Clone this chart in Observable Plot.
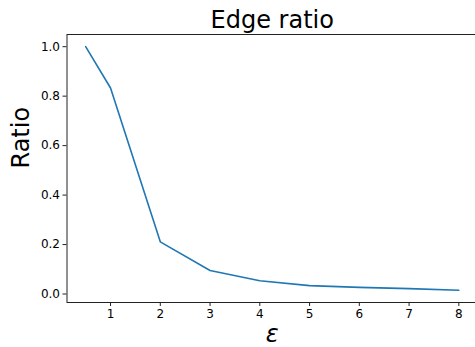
<!DOCTYPE html>
<html>
<head>
<meta charset="utf-8">
<script src="https://cdn.jsdelivr.net/npm/d3@7"></script>
<script src="https://cdn.jsdelivr.net/npm/@observablehq/plot@0.6"></script>
<style>
  html, body { margin: 0; padding: 0; background: #fff; overflow: hidden; }
  svg { font-family: "DejaVu Sans", sans-serif; }
</style>
</head>
<body>
<div id="chart"></div>
<script>
const title = "Edge ratio";
const yLabel = "Ratio";
const xLabel = "ε";
const eps = [0.5, 1, 2, 3, 4, 5, 6, 7, 8];
const ratio = [1.0, 0.833, 0.211, 0.095, 0.054, 0.034, 0.027, 0.022, 0.015];
const xTicks = [1, 2, 3, 4, 5, 6, 7, 8];
const yTicks = [0.0, 0.2, 0.4, 0.6, 0.8, 1.0];

const data = eps.map((e, i) => ({eps: e, ratio: ratio[i]}));

// matplotlib-like 5% margins
const xMin = d3.min(eps), xMax = d3.max(eps);
const yMin = d3.min(ratio), yMax = d3.max(ratio);
const xPad = (xMax - xMin) * 0.05, yPad = (yMax - yMin) * 0.05;

const chart = Plot.plot({
  width: 475,
  height: 347,
  marginLeft: 66.5,
  marginRight: -2,
  marginTop: 34,
  marginBottom: 45,
  style: {fontFamily: "DejaVu Sans, sans-serif", background: "#fff", color: "#000"},
  x: {domain: [xMin - xPad, xMax + xPad]},
  y: {domain: [yMin - yPad, yMax + yPad]},
  marks: [
    Plot.frame({stroke: "#222", strokeWidth: 1}),
    Plot.axisX({ticks: xTicks, tickSize: 4, tickPadding: 3, fontSize: 12, label: null, tickFormat: d3.format("d"), stroke: "#222"}),
    Plot.axisY({ticks: yTicks, tickSize: 4, tickPadding: 3, fontSize: 12, label: null, tickFormat: d3.format(".1f"), stroke: "#222"}),
    Plot.line(data, {x: "eps", y: "ratio", stroke: "#1f77b4", strokeWidth: 1.6}),
    Plot.text([title], {frameAnchor: "top", text: d => d, fontSize: 24, lineAnchor: "bottom", dy: -7, fill: "#000"}),
    Plot.text([yLabel], {frameAnchor: "left", text: d => d, fontSize: 24, rotate: -90, lineAnchor: "bottom", dx: -38.5, fill: "#000"}),
    Plot.text([xLabel], {frameAnchor: "bottom", text: d => d, fontSize: 24, fontStyle: "italic", lineAnchor: "bottom", dy: 39, fill: "#000"})
  ]
});
document.getElementById("chart").appendChild(chart);
</script>
</body>
</html>
